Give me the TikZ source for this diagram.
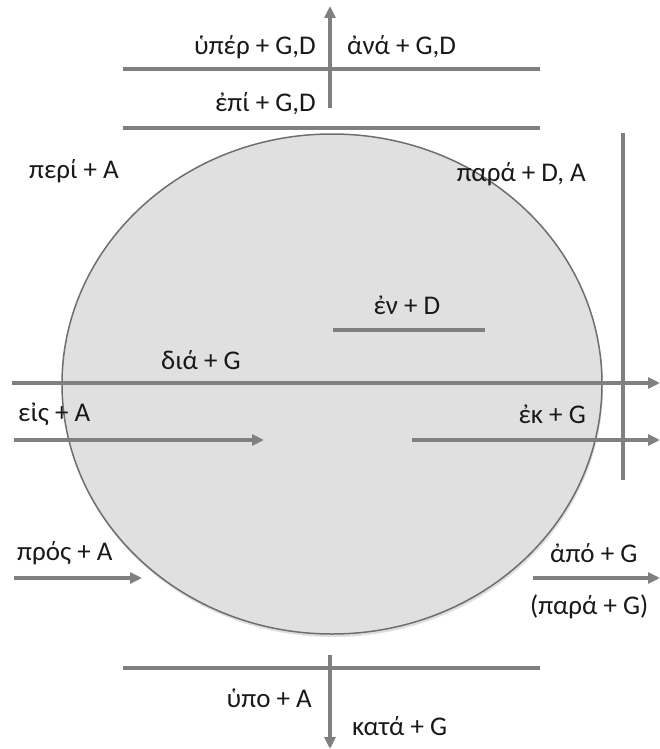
\documentclass[tikz,border=0pt]{standalone}
\usepackage{fontspec}
\setmainfont{Carlito}
\usetikzlibrary{arrows.meta,shapes.geometric,shadows}
\definecolor{bargray}{RGB}{128,128,128}
\definecolor{discfill}{RGB}{224,224,224}
\definecolor{discedge}{RGB}{110,110,110}

\begin{document}
\begin{tikzpicture}[x=1pt,y=-1pt,
  bar/.style={draw=bargray,line width=4pt},
  arr/.style={bar,-{Triangle[length=12pt,width=11pt]}},
  lbl/.style={font=\fontsize{27}{30}\selectfont,inner sep=0pt,text=black!90}]
\useasboundingbox (0,0) rectangle (660,749);
% the disc
\node[ellipse,draw=discedge,line width=1.5pt,fill=discfill,
      drop shadow={opacity=.25,shadow xshift=1pt,shadow yshift=-3pt},
      minimum width=540pt,minimum height=500pt] (disc) at (332,384) {};

% top: two bars and the upward arrow
\coordinate (hiL) at (123,69);  \coordinate (hiR) at (540,69);
\coordinate (loL) at (123,128); \coordinate (loR) at (540,128);
\coordinate (upS) at (330,108); \coordinate (upE) at (330,6);
\draw[bar] (hiL)--(hiR);
\draw[bar] (loL)--(loR);
\draw[arr] (upS)--(upE);
\node[lbl,anchor=east] (hyper) at (316,47) {ὑπέρ + G,D};
\node[lbl,anchor=west] (ana) at (347,47) {ἀνά + G,D};
\node[lbl,anchor=east] (epi) at (316,104) {ἐπί + G,D};

% around and beside
\node[lbl,anchor=west] (peri) at (29,171) {περί + A};
\node[lbl,anchor=east] (para) at (586,174) {παρά + D, A};
\coordinate (sideT) at (623,133); \coordinate (sideB) at (623,480);
\draw[bar] (sideT)--(sideB);

% inside
\node[lbl] (en) at (407,305) {ἐν + D};
\coordinate (enL) at (333,330); \coordinate (enR) at (485,330);
\draw[bar] (enL)--(enR);

% through
\node[lbl] (dia) at (201,360) {διά + G};
\coordinate (diaS) at (12,383); \coordinate (diaE) at (660,383);
\draw[arr] (diaS)--(diaE);

% into, out of
\node[lbl,anchor=west] (eis) at (18,414) {εἰς + A};
\coordinate (eisS) at (14,440); \coordinate (eisE) at (264,440);
\draw[arr] (eisS)--(eisE);
\node[lbl,anchor=east] (ek) at (586,414) {ἐκ + G};
\coordinate (ekS) at (412,440); \coordinate (ekE) at (660,440);
\draw[arr] (ekS)--(ekE);

% towards, away from
\node[lbl,anchor=west] (pros) at (17,553) {πρός + A};
\coordinate (prosS) at (14,578); \coordinate (prosE) at (142,578);
\draw[arr] (prosS)--(prosE);
\node[lbl,anchor=west] (apo) at (550,553) {ἀπό + G};
\coordinate (apoS) at (533,578); \coordinate (apoE) at (660,578);
\draw[arr] (apoS)--(apoE);
\node[lbl,anchor=west] (para2) at (530,607) {(παρά + G)};

% bottom: bar and the downward arrow
\coordinate (botL) at (123,668); \coordinate (botR) at (540,668);
\coordinate (dnS) at (330,655); \coordinate (dnE) at (330,749);
\draw[bar] (botL)--(botR);
\draw[arr] (dnS)--(dnE);
\node[lbl,anchor=east] (hypo) at (312,698) {ὑπο + A};
\node[lbl,anchor=west] (kata) at (352,726) {κατά + G};
\end{tikzpicture}
\end{document}
